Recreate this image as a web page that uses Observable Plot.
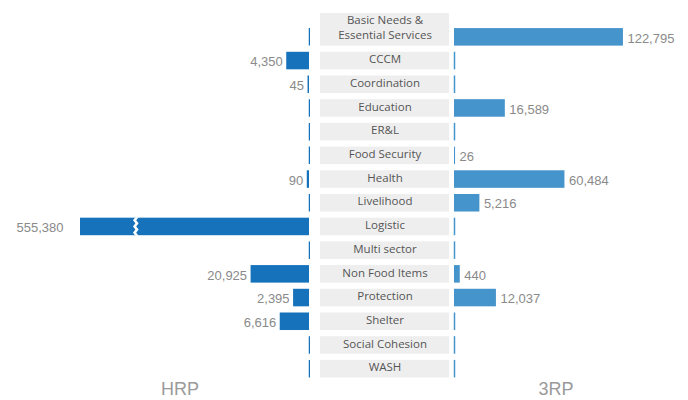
<!DOCTYPE html>
<html>
<head>
<meta charset="utf-8">
<script src="https://cdn.jsdelivr.net/npm/d3@7"></script>
<script src="https://cdn.jsdelivr.net/npm/@observablehq/plot@0.6"></script>
<style>
  body { margin: 0; background: #fff; }
  #wrap { position: relative; width: 688px; height: 400px; overflow: hidden; }
  #wrap > svg, #wrap > div { position: absolute; top: 0; }
  .side-title { position: absolute; font-family: "Liberation Sans", Arial, sans-serif; font-size: 18px; color: #9a9a9a; line-height: normal; transform: translateX(-50%); }
</style>
</head>
<body>
<div id="wrap"></div>
<script>
const categories = ["Basic Needs & Essential Services", "CCCM", "Coordination", "Education", "ER&L", "Food Security", "Health", "Livelihood", "Logistic", "Multi sector", "Non Food Items", "Protection", "Shelter", "Social Cohesion", "WASH"];
const hrpValues = [0, 4350, 45, 0, 0, 0, 90, 0, 555380, 0, 20925, 2395, 6616, 0, 0];
const rrpValues = [122795, 0, 0, 16589, 0, 26, 60484, 5216, 0, 0, 440, 12037, 0, 0, 0];
const sideTitles = ["HRP", "3RP"];

const rows = categories.map((c, i) => ({cat: c, hrp: hrpValues[i], rrp: rrpValues[i]}));
const fmt = d3.format(",");
const hrpColor = "#1673bb";
const rrpColor = "#4694cc";
const labelColor = "#8a8a8a";
const maxShown = 203900;
const breakValue = 130000;

const yScale = {domain: categories, paddingInner: 0.26, paddingOuter: 0.13, round: false, axis: null};
const common = {height: 400, marginTop: 25, marginBottom: 19.5};
const valueFont = {fontFamily: "Liberation Sans, Arial, sans-serif", fontSize: 13, fill: labelColor};
const catFont = {fontFamily: "Open Sans, sans-serif", fontSize: 11.5, fill: "#555"};

const wrap = document.getElementById("wrap");

// Left (HRP)
const left = Plot.plot({
  ...common, width: 310, marginLeft: 80, marginRight: 1,
  x: {type: "pow", exponent: 0.6, domain: [0, maxShown], reverse: true, clamp: true, axis: null},
  y: yScale,
  marks: [
    Plot.barX(rows.filter(d => d.hrp > 0), {x: "hrp", y: "cat", fill: hrpColor}),
    Plot.tickX(rows.filter(d => d.hrp === 0), {x: () => 0, y: "cat", stroke: hrpColor, strokeWidth: 1.5}),
    Plot.text(rows.filter(d => d.hrp > 0 && d.hrp <= maxShown), {x: "hrp", y: "cat", text: d => fmt(d.hrp), textAnchor: "end", dx: -4, dy: 1, ...valueFont}),
    Plot.text(rows.filter(d => d.hrp > maxShown), {x: "hrp", y: "cat", text: d => fmt(d.hrp), textAnchor: "end", dx: -17, dy: 1, ...valueFont})
  ]
});
left.style.left = "0px";
wrap.appendChild(left);

// break on clamped bar
{
  const xs = left.scale("x"), ys = left.scale("y");
  rows.filter(d => d.hrp > maxShown).forEach(d => {
    const x0 = xs.apply(breakValue);
    const y0 = ys.apply(d.cat), bw = ys.bandwidth;
    const n = 6, pts = [];
    for (let i = 0; i <= n; i++) pts.push([x0 + (i % 2 ? -1.2 : 1.2), y0 - 0.5 + (bw + 1) * i / n]);
    const rightEdge = pts.slice().reverse().map(([x, y]) => [x + 3.2, y]);
    const poly = pts.concat(rightEdge);
    d3.select(left).append("path")
      .attr("d", "M" + poly.map(p => p.join(",")).join("L") + "Z")
      .attr("fill", "#fff");
  });
}

// Center labels
const center = Plot.plot({
  ...common, width: 129, marginLeft: 0, marginRight: 0,
  y: yScale,
  marks: [
    Plot.cell(rows.slice(1), {y: "cat", fill: "#eeeeee"}),
    Plot.cell(rows.slice(0, 1), {y: "cat", fill: "#eeeeee", insetTop: -15}),
    Plot.text(rows.slice(1), {y: "cat", text: "cat", frameAnchor: "middle", dy: -1.5, ...catFont}),
    Plot.text(rows.slice(0, 1), {y: "cat", text: d => d.cat.replace("& ", "&\n"), frameAnchor: "middle", dy: -11, lineHeight: 1.36, ...catFont})
  ]
});
center.style.left = "320px";
wrap.appendChild(center);

// Right (3RP)
const right = Plot.plot({
  ...common, width: 235, marginLeft: 1, marginRight: 5,
  x: {type: "pow", exponent: 0.6, domain: [0, maxShown], clamp: true, axis: null},
  y: yScale,
  marks: [
    Plot.barX(rows.filter(d => d.rrp > 0), {x: "rrp", y: "cat", fill: rrpColor}),
    Plot.tickX(rows.filter(d => d.rrp === 0), {x: () => 0, y: "cat", stroke: rrpColor, strokeWidth: 1.5}),
    Plot.text(rows.filter(d => d.rrp > 0), {x: "rrp", y: "cat", text: d => fmt(d.rrp), textAnchor: "start", dx: 4, dy: 1, ...valueFont})
  ]
});
right.style.left = "453px";
wrap.appendChild(right);

// side titles
[[sideTitles[0], 180], [sideTitles[1], 556]].forEach(([t, cx]) => {
  const el = document.createElement("div");
  el.className = "side-title";
  el.textContent = t;
  el.style.left = cx + "px";
  el.style.top = "379px";
  wrap.appendChild(el);
});
</script>
</body>
</html>
